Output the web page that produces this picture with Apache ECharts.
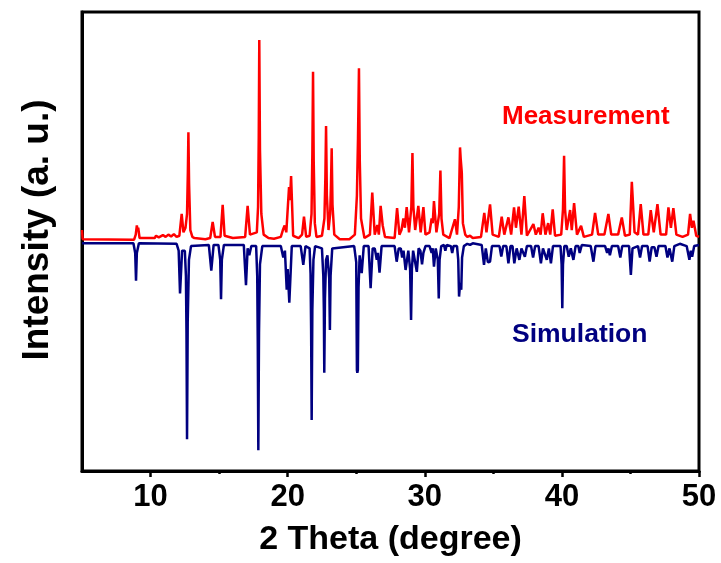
<!DOCTYPE html>
<html>
<head>
<meta charset="utf-8">
<script src="https://cdn.jsdelivr.net/npm/echarts@6/dist/echarts.min.js"></script>
<style>html,body{margin:0;padding:0;background:#fff;}#chart{width:721px;height:563px;}</style>
</head>
<body>
<div id="chart"></div>
<script>
// X axis range and tick labels
const xRange = [5, 50];
const xTickLabels = [10, 20, 30, 40, 50];
const xMinorTicks = [15, 25, 35, 45];
const xTitle = '2 Theta (degree)';
const yTitle = 'Intensity (a. u.)';
const labelMeasurement = 'Measurement';
const labelSimulation = 'Simulation';

// Measured pattern: [2theta, intensity (a.u.)]
const measurement = [
  [5.0, 5], [5.05, 1], [8.8, 0.8], [8.92, 3], [9.0, 7], [9.05, 5], [9.1, 6], [9.2, 1.5],
  [10.3, 1.5], [10.4, 2.5], [10.6, 1.8], [10.9, 2.8], [11.1, 2], [11.3, 3], [11.5, 2.2], [11.7, 3.2],
  [11.9, 2], [12.1, 2.5], [12.27, 12], [12.4, 4], [12.55, 6], [12.66, 12], [12.72, 30], [12.76, 47.6],
  [12.81, 25], [12.9, 5], [13.05, 2], [13.2, 1.5],
  [14.0, 1], [14.35, 1.5], [14.53, 8.5], [14.7, 2], [15.1, 2], [15.26, 16], [15.4, 2.5], [16.0, 1.5],
  [16.9, 2], [17.08, 15.5], [17.25, 3], [17.75, 4], [17.84, 15], [17.89, 45], [17.93, 87.8], [17.98, 40],
  [18.08, 12], [18.25, 3], [18.6, 1.5],
  [19.0, 1.2], [19.5, 2], [19.65, 5], [19.78, 7], [19.9, 4], [20.1, 23.7], [20.17, 18], [20.25, 28.5],
  [20.4, 2.5], [20.8, 1.5], [21.05, 3], [21.19, 10.8], [21.35, 2], [21.6, 2.5], [21.74, 12], [21.8, 38],
  [21.85, 74], [21.9, 35], [21.98, 8], [22.1, 2],
  [22.5, 2.5], [22.68, 10], [22.75, 28], [22.8, 50.3], [22.86, 20], [22.98, 5], [23.1, 12], [23.16, 25],
  [23.21, 40.6], [23.27, 16], [23.4, 3], [23.8, 1], [24.5, 1], [24.9, 3],
  [25.05, 20], [25.13, 45], [25.2, 75.5], [25.26, 35], [25.35, 10], [25.6, 1.5], [26.0, 3], [26.17, 21.3],
  [26.35, 3], [26.54, 7.2],
  [26.65, 3], [26.78, 15.5], [26.93, 7], [27.1, 2], [27.8, 1.5], [27.98, 14.5], [28.15, 3], [28.3, 5],
  [28.44, 10], [28.55, 6], [28.68, 15], [28.85, 4], [29.02, 15], [29.1, 38.6], [29.17, 15], [29.3, 5],
  [29.53, 15.5], [29.7, 4],
  [29.9, 15], [30.05, 3], [30.35, 4], [30.5, 10], [30.58, 8], [30.67, 17.6], [30.85, 4], [31.05, 12],
  [31.14, 30.9], [31.22, 10],
  [31.35, 3], [31.8, 1.5], [32.2, 9.7], [32.35, 3], [32.48, 15], [32.57, 41], [32.62, 36], [32.7, 30],
  [32.78, 8], [32.95, 3], [33.1, 2],
  [33.3, 2.5], [33.5, 1.5], [34.1, 2], [34.34, 12.5], [34.5, 4], [34.76, 16.2], [34.95, 3], [35.4, 2],
  [35.61, 10.8], [35.8, 3], [36.1, 10.5], [36.3, 3], [36.51, 14.9], [36.65, 6], [36.85, 15.2], [37.05, 3],
  [37.26, 19.8], [37.45, 2.5], [37.92, 7.6], [38.1, 3], [38.3, 6], [38.45, 3], [38.6, 12.3], [38.8, 3],
  [39.0, 8], [39.15, 3], [39.33, 14], [39.5, 2.5], [39.95, 3], [40.08, 14], [40.16, 37.3], [40.23, 14],
  [40.35, 5], [40.6, 13.7],
  [40.72, 5], [40.89, 16.7], [41.1, 3], [41.4, 6.8], [41.6, 2], [42.2, 3], [42.42, 12.5], [42.65, 3],
  [43.1, 3], [43.39, 12], [43.6, 3], [44.1, 3], [44.37, 10.5], [44.6, 2.5], [44.95, 3], [45.1, 26],
  [45.3, 4], [45.55, 3], [45.75, 16.3], [45.95, 3], [46.3, 3], [46.48, 13.7], [46.7, 4], [46.97, 16.3],
  [47.2, 3], [47.6, 3], [47.77, 14.9], [47.95, 6], [48.13, 14.5], [48.35, 3], [48.8, 2], [49.2, 3],
  [49.35, 12], [49.48, 6], [49.6, 9], [49.8, 2.5], [50, 2]
];

// Simulated pattern (plotted downward): [2theta, intensity (a.u.)]
const simulation = [
  [5.0, -0.8], [8.75, -0.8], [8.88, -5], [8.94, -17.1], [9.0, -5], [9.15, -0.8], [11.9, -1], [12.05, -4],
  [12.15, -22.6], [12.3, -4], [12.5, -4], [12.58, -15], [12.62, -40], [12.66, -86.2], [12.71, -35], [12.8, -8],
  [12.95, -2], [14.25, -1.5], [14.43, -12.7], [14.6, -1.5], [14.95, -1.5], [15.08, -8], [15.14, -25.2], [15.2, -8],
  [15.35, -1.5], [16.8, -1.5], [16.96, -19], [17.08, -3], [17.2, -6], [17.35, -2], [17.7, -2], [17.78, -15],
  [17.82, -45], [17.86, -91], [17.91, -40], [17.98, -10], [18.15, -2],
  [19.5, -2], [19.68, -7], [19.8, -4], [19.93, -21], [20.0, -12], [20.12, -26.7], [20.3, -2],
  [20.95, -2], [21.14, -10.2], [21.3, -2], [21.6, -3], [21.67, -14], [21.71, -38], [21.75, -77.8], [21.8, -30],
  [21.88, -8], [22.0, -2], [22.5, -3], [22.6, -15], [22.64, -30], [22.67, -57.2], [22.72, -25], [22.8, -8],
  [22.9, -6], [23.03, -16], [23.08, -38.6], [23.13, -15], [23.25, -3], [24.85, -2], [25.0, -9], [25.05, -56],
  [25.08, -57.2], [25.12, -56], [25.17, -20], [25.25, -6], [25.4, -13.8], [25.55, -2], [25.9, -2], [26.05, -20.3],
  [26.2, -3], [26.35, -3],
  [26.5, -8], [26.58, -5], [26.7, -13.6], [26.85, -2], [27.8, -2], [27.95, -8.8], [28.1, -3], [28.25, -3],
  [28.35, -7], [28.45, -4], [28.6, -12.4], [28.8, -4], [28.93, -12], [29.0, -34.2], [29.06, -12], [29.15, -4],
  [29.42, -13.2], [29.55, -3],
  [29.68, -4], [29.8, -10], [29.9, -5], [30.05, -2], [30.35, -2], [30.5, -5], [30.58, -3], [30.67, -11],
  [30.8, -3], [30.95, -8], [31.02, -24.8], [31.08, -8], [31.2, -2], [31.4, -1.5], [31.5, -4], [31.6, -1.5],
  [31.9, -2], [32.0, -5],
  [32.1, -2], [32.35, -2], [32.44, -8], [32.5, -24], [32.58, -18], [32.66, -21], [32.72, -7], [32.85, -2],
  [33.1, -1], [33.3, -1.5],
  [33.5, -0.8], [34.15, -1.5], [34.32, -10.2], [34.45, -3], [34.6, -9], [34.76, -8.8], [34.9, -2], [35.45, -2],
  [35.58, -6.6], [35.72, -2], [35.95, -2], [36.1, -9.5], [36.25, -2], [36.4, -2], [36.53, -9.5], [36.7, -3],
  [36.9, -8], [37.05, -3], [37.3, -6.6], [37.45, -2], [37.75, -2], [37.9, -7], [38.05, -2], [38.3, -2],
  [38.47, -9.5], [38.62, -3], [38.75, -3], [38.9, -8], [39.05, -3], [39.2, -9.5], [39.35, -2], [39.9, -2],
  [39.98, -10], [40.03, -29.1], [40.08, -10], [40.18, -2], [40.35, -2], [40.5, -6.6], [40.65, -3], [40.84, -8],
  [41.0, -2], [41.2, -2],
  [41.3, -5], [41.45, -1.5], [42.1, -2], [42.3, -8.8], [42.45, -2], [43.15, -2], [43.3, -5], [43.4, -3],
  [43.5, -6], [43.65, -2], [44.1, -2], [44.26, -7], [44.4, -2], [44.9, -2], [45.03, -14.6], [45.15, -3],
  [45.55, -2], [45.7, -7], [45.85, -2], [46.25, -2], [46.4, -8.8], [46.55, -2.5], [46.75, -2.5], [46.9, -6.6],
  [47.05, -2], [47.55, -2], [47.7, -7], [47.85, -3], [48.05, -8.8], [48.2, -2], [48.6, -1], [49.1, -2],
  [49.3, -8], [49.4, -4], [49.5, -6.6], [49.65, -2], [50, -1.5]
];

const FONT = '"Liberation Sans", Arial, sans-serif';
const chart = echarts.init(document.getElementById('chart'), null, {renderer: 'canvas'});
chart.setOption({
  animation: false,
  backgroundColor: '#fff',
  grid: {left: 82, right: 22, top: 12, bottom: 92, show: true, borderColor: '#000', borderWidth: 3},
  xAxis: [{
    type: 'value', min: xRange[0], max: xRange[1],
    axisLine: {show: true, onZero: false, lineStyle: {color: '#000', width: 3}},
    axisTick: {show: true, inside: false, length: 6, customValues: xTickLabels, lineStyle: {color: '#000', width: 2.5}},
    axisLabel: {
      margin: 11, color: '#000', fontSize: 31, fontWeight: 'bold', fontFamily: FONT,
      customValues: xTickLabels
    },
    splitLine: {show: false},
    name: xTitle, nameLocation: 'middle', nameGap: 52,
    nameTextStyle: {color: '#000', fontSize: 34, fontWeight: 'bold', fontFamily: FONT}
  }, {
    type: 'value', min: xRange[0], max: xRange[1], position: 'bottom', offset: 0,
    axisLine: {show: false, onZero: false},
    axisTick: {show: true, inside: false, length: 3, customValues: xMinorTicks, lineStyle: {color: '#000', width: 2.5}},
    axisLabel: {show: false}, splitLine: {show: false}
  }],
  yAxis: {
    type: 'value', min: -100, max: 100,
    axisLine: {show: true, onZero: false, lineStyle: {color: '#000', width: 3}},
    axisTick: {show: false}, axisLabel: {show: false}, splitLine: {show: false}
  },
  graphic: [
    {type: 'text', x: 38, y: 230, rotation: Math.PI / 2,
     style: {text: yTitle, fill: '#000', font: 'bold 37px ' + FONT, align: 'center', verticalAlign: 'middle'}},
    {type: 'text', left: 502, top: 104, style: {text: labelMeasurement, fill: '#ff0000', font: 'bold 26px ' + FONT}},
    {type: 'text', left: 512, top: 321, style: {text: labelSimulation, fill: '#000080', font: 'bold 26.5px ' + FONT}}
  ],
  series: [
    {type: 'line', xAxisIndex: 0, data: measurement, showSymbol: false, lineStyle: {color: '#ff0000', width: 2.5}, itemStyle: {color: '#ff0000'}, z: 2},
    {type: 'line', xAxisIndex: 0, data: simulation, showSymbol: false, lineStyle: {color: '#000080', width: 2.5}, itemStyle: {color: '#000080'}, z: 3}
  ]
});
</script>
</body>
</html>
